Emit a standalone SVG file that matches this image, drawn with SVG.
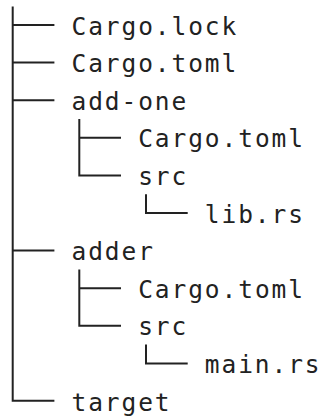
<svg xmlns="http://www.w3.org/2000/svg" width="324" height="417" viewBox="0 0 324 417">
<style>
.t{font-family:"DejaVu Sans Mono","Liberation Mono",monospace;font-size:24.5px;letter-spacing:1.92px;fill:#222}
.c{fill:none;stroke:#222;stroke-width:2;stroke-linecap:butt}
</style>
<rect width="324" height="417" fill="#fff"/>
<g id="connectors" class="c">
<path d="M12.7 6.5V400.7H54.4"/>
<path d="M12.7 25H54.4M12.7 62.6H54.4M12.7 100.2H54.4M12.7 250.6H54.4"/>
<path d="M79.3 119V175.4H121M79.3 137.8H121"/>
<path d="M146 194.2V213H187.7"/>
<path d="M79.3 269.4V325.8H121M79.3 288.2H121"/>
<path d="M146 344.6V363.4H187.7"/>
</g>
<g id="n-cargo-lock"><text class="t" x="71.5" y="34.5">Cargo.lock</text></g>
<g id="n-cargo-toml"><text class="t" x="71.5" y="72.1">Cargo.toml</text></g>
<g id="n-add-one"><text class="t" x="71.5" y="109.7">add-one</text></g>
<g id="n-add-one-cargo-toml"><text class="t" x="138.2" y="147.3">Cargo.toml</text></g>
<g id="n-add-one-src"><text class="t" x="138.2" y="184.9">src</text></g>
<g id="n-lib-rs"><text class="t" x="204.8" y="222.5">lib.rs</text></g>
<g id="n-adder"><text class="t" x="71.5" y="260.1">adder</text></g>
<g id="n-adder-cargo-toml"><text class="t" x="138.2" y="297.7">Cargo.toml</text></g>
<g id="n-adder-src"><text class="t" x="138.2" y="335.3">src</text></g>
<g id="n-main-rs"><text class="t" x="204.8" y="372.9">main.rs</text></g>
<g id="n-target"><text class="t" x="71.5" y="410.5">target</text></g>
</svg>
